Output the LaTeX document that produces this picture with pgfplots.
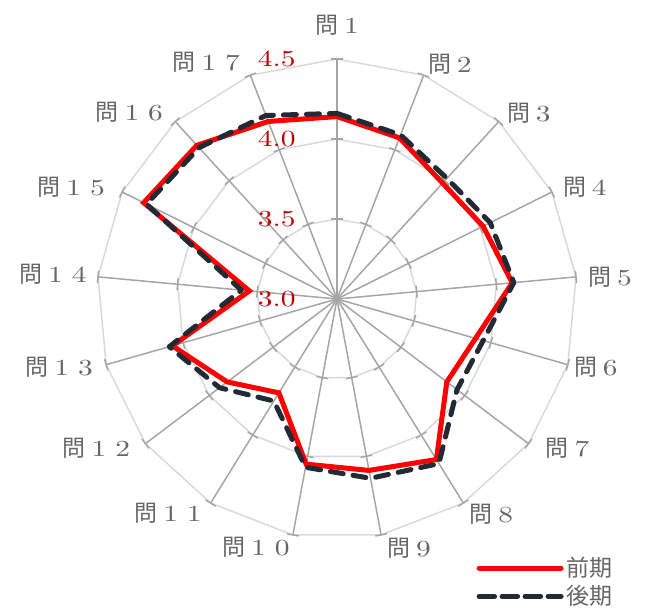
\documentclass[border=0pt]{standalone}
\usepackage{pgfplots}
\pgfplotsset{compat=1.18}
\usepgfplotslibrary{polar}
\usepackage{pgfplotstable}
\usepackage{fontspec}
\newfontfamily\cjk{Noto Sans CJK JP}
\newfontfamily\lmw{lmroman10-regular.otf}[FakeStretch=1.28]

\definecolor{zenki}{HTML}{FF0000}
\definecolor{kouki}{HTML}{222A35}
\definecolor{spoke}{HTML}{A6A6A6}
\definecolor{ring}{HTML}{D9D9D9}
\definecolor{lbl}{HTML}{666666}
\definecolor{rlbl}{HTML}{C00000}

% a = angle of the spoke (Q1 on top, clockwise), zen = 前期, kou = 後期
\pgfplotstableread{
q   a        zen   kou
1   90       4.14  4.16
2   68.824   4.08  4.10
3   47.647   3.98  4.02
4   26.471   4.02  4.07
5   5.294    4.10  4.11
6   344.118  3.90  3.95
7   322.941  3.86  3.94
8   301.765  4.18  4.21
9   280.588  4.09  4.14
10  259.412  4.05  4.07
11  238.235  3.69  3.75
12  217.059  3.86  3.92
13  195.882  4.07  4.09
14  174.706  3.55  3.60
15  153.529  4.35  4.33
16  132.353  4.30  4.28
17  111.176  4.19  4.23
18  90       4.14  4.16
}\scores

\newcommand\q[1]{{\cjk 問}\hspace{0.25em}#1}
\newcommand\qq[2]{{\cjk 問}\hspace{0.25em}#1\hspace{0.39em}#2}

\begin{document}
\begin{tikzpicture}[
  ql/.style={inner sep=0pt, text=lbl, font=\fontsize{11.5}{13}\selectfont\lmw},
  rl/.style={inner sep=0pt, text=rlbl, font=\fontsize{11.5}{13}\selectfont\lmw, anchor=east, xshift=-20.5pt},
]
\begin{polaraxis}[
  width=240pt, height=240pt, scale only axis,
  ymin=0, ymax=1.5,
  y filter/.expression={y-3},
  hide axis, clip=false, no markers,
  legend style={at={(axis description cs:0.79,-0.03)}, anchor=north west,
    draw=none, fill=none, inner sep=0pt, row sep=0pt,
    font=\fontsize{11.5}{13}\selectfont\cjk, text=lbl, nodes={inner sep=1.5pt}},
  legend cell align=left,
  legend image code/.code={\draw[#1] (1.25pt,0pt) -- (34.75pt,0pt); \path (0pt,0pt) -- (41pt,0pt);},
]
\coordinate (C) at (axis cs:0,0);
% rings
\addplot[ring, line width=0.75pt, forget plot] table[x=a, y expr=3.5] {\scores};
\addplot[ring, line width=0.75pt, forget plot] table[x=a, y expr=4.0] {\scores};
\addplot[ring, line width=0.75pt, forget plot] table[x=a, y expr=4.5] {\scores};
% spokes and ticks
\pgfplotsinvokeforeach{90,68.824,47.647,26.471,5.294,344.118,322.941,301.765,280.588,259.412,238.235,217.059,195.882,174.706,153.529,132.353,111.176}{
  \draw[spoke, line width=0.75pt] (axis cs:#1,0) -- (axis cs:#1,1.5);
  \draw[spoke, line width=0.75pt] (axis cs:#1,0.5) ++(#1+90:3pt) -- ++(#1-90:6pt);
  \draw[spoke, line width=0.75pt] (axis cs:#1,1.0) ++(#1+90:3pt) -- ++(#1-90:6pt);
  \draw[spoke, line width=0.75pt] (axis cs:#1,1.5) ++(#1+90:3pt) -- ++(#1-90:6pt);
}
\addplot[zenki, line width=2.5pt, line join=miter, line cap=round] table[x=a, y=zen] {\scores};
\addlegendentry{前期}
\addplot[kouki, line width=2.5pt, line join=round, line cap=round, dash pattern=on 6.5pt off 5pt] table[x=a, y=kou] {\scores};
\addlegendentry{後期}
% radial labels
\node[rl] at (axis cs:90,0)   {3.0};
\node[rl] at (axis cs:90,0.5) {3.5};
\node[rl] at (axis cs:90,1.0) {4.0};
\node[rl] at (axis cs:90,1.5) {4.5};
% question labels
\node[ql, anchor=south, yshift=11.5pt]              at (axis cs:90,1.5)      {\q{1}};
\node[ql, anchor=south west, xshift=2pt]            at (axis cs:68.824,1.5)  {\q{2}};
\node[ql, anchor=south west, xshift=4pt, yshift=-1pt] at (axis cs:47.647,1.5) {\q{3}};
\node[ql, anchor=west, xshift=5.5pt, yshift=2.5pt]  at (axis cs:26.471,1.5)  {\q{4}};
\node[ql, anchor=west, xshift=6pt]                  at (axis cs:5.294,1.5)   {\q{5}};
\node[ql, anchor=west, xshift=3pt, yshift=-1.5pt]   at (axis cs:344.118,1.5) {\q{6}};
\node[ql, anchor=west, xshift=8.5pt, yshift=-2.5pt] at (axis cs:322.941,1.5) {\q{7}};
\node[ql, anchor=north west, xshift=3pt, yshift=-0.5pt] at (axis cs:301.765,1.5) {\q{8}};
\node[ql, anchor=north west, xshift=3pt, yshift=-1.5pt] at (axis cs:280.588,1.5) {\q{9}};
\node[ql, anchor=north east, xshift=-1.5pt, yshift=-1pt] at (axis cs:259.412,1.5) {\qq{1}{0}};
\node[ql, anchor=north east, xshift=-4.3pt]         at (axis cs:238.235,1.5) {\qq{1}{1}};
\node[ql, anchor=east, xshift=-7.5pt, yshift=-2.5pt] at (axis cs:217.059,1.5) {\qq{1}{2}};
\node[ql, anchor=east, xshift=-6.5pt, yshift=-1.5pt] at (axis cs:195.882,1.5) {\qq{1}{3}};
\node[ql, anchor=east, xshift=-5.5pt, yshift=1.5pt]  at (axis cs:174.706,1.5) {\qq{1}{4}};
\node[ql, anchor=east, xshift=-8.5pt, yshift=2.5pt]  at (axis cs:153.529,1.5) {\qq{1}{5}};
\node[ql, anchor=south east, xshift=-6pt, yshift=-0.5pt] at (axis cs:132.353,1.5) {\qq{1}{6}};
\node[ql, anchor=south east, xshift=-5pt, yshift=1pt] at (axis cs:111.176,1.5) {\qq{1}{7}};
\end{polaraxis}
\pgfresetboundingbox
\path (C) ++(-168.5pt,-154.5pt) rectangle ++(331pt,304pt);
\end{tikzpicture}
\end{document}
